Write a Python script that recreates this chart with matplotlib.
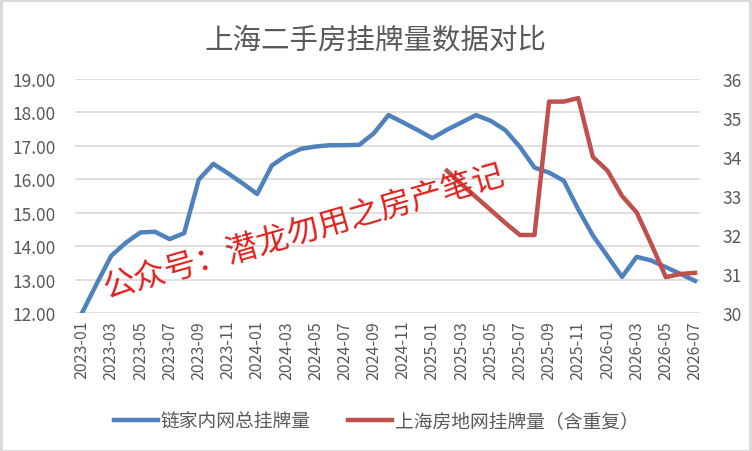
import numpy as np
import matplotlib
matplotlib.use('Agg')
import matplotlib.pyplot as plt
from matplotlib.patches import Rectangle

plt.rcParams['font.family'] = ['Noto Sans CJK SC', 'DejaVu Sans']

months = ['2023-01', '2023-02', '2023-03', '2023-04', '2023-05', '2023-06', '2023-07',
          '2023-08', '2023-09', '2023-10', '2023-11', '2023-12', '2024-01', '2024-02',
          '2024-03', '2024-04', '2024-05', '2024-06', '2024-07', '2024-08', '2024-09',
          '2024-10', '2024-11', '2024-12', '2025-01', '2025-02', '2025-03', '2025-04',
          '2025-05', '2025-06', '2025-07', '2025-08', '2025-09', '2025-10', '2025-11',
          '2025-12', '2026-01', '2026-02', '2026-03', '2026-04', '2026-05', '2026-06',
          '2026-07']

lianjia = [12.00, 12.87, 13.71, 14.10, 14.41, 14.43, 14.21,
           14.39, 15.99, 16.46, 16.18, 15.88, 15.56, 16.41,
           16.71, 16.91, 16.98, 17.02, 17.02, 17.03, 17.38,
           17.92, 17.70, 17.47, 17.23, 17.48, 17.70, 17.92,
           17.75, 17.47, 16.97, 16.35, 16.20, 15.96, 15.10,
           14.32, 13.70, 13.08, 13.68, 13.57, 13.37, 13.17,
           12.96]

# 上海房地网 starts at 2025-02
fangdi_start = '2025-02'
fangdi = [33.65, 33.30, 32.97, 32.64, 32.31, 32.00, 32.00,
          35.42, 35.42, 35.51, 34.00, 33.65, 33.00, 32.58,
          31.77, 30.92, 31.00, 31.03]

legend_labels = ['链家内网总挂牌量', '上海房地网挂牌量（含重复）']
title = '上海二手房挂牌量数据对比'
watermark = '公众号：潜龙勿用之房产笔记'

blue = '#4F81BD'
red = '#C0504D'
grey_text = '#595959'

fig = plt.figure(figsize=(7.52, 4.52), dpi=100)
ax = fig.add_axes([75 / 752, 1 - 314 / 452, 625 / 752, 234 / 452])
ax2 = ax.twinx()

x = np.arange(len(months))
i0 = months.index(fangdi_start)
x2 = np.arange(i0, i0 + len(fangdi))

l1, = ax.plot(x, lianjia, color=blue, lw=3.2, solid_joinstyle='round', zorder=3)
l2, = ax2.plot(x2, fangdi, color=red, lw=3.2, solid_joinstyle='round', zorder=3)

ax.set_xlim(-0.48, len(months) - 1 + 0.34)
ax.set_ylim(12, 19)
ax2.set_ylim(30, 36)
ax.set_yticks(np.arange(12, 19.5, 1))
ax.set_yticklabels(['%.2f' % v for v in np.arange(12, 19.5, 1)])
ax2.set_yticks(np.arange(30, 37, 1))

ax.set_xticks(x[::2])
ax.set_xticklabels(months[::2], rotation=90)

ax.grid(axis='y', color='#D9D9D9', lw=1.2)
ax.set_axisbelow(True)
for a in (ax, ax2):
    for s in a.spines.values():
        s.set_visible(False)
    a.tick_params(length=0, colors=grey_text, labelsize=12.5)
ax.tick_params(axis='y', pad=14)
ax2.tick_params(axis='y', pad=16)
ax.tick_params(axis='x', labelsize=11.5, pad=5)
ax.patch.set_visible(False)

fig.text(0.5, 1 - 40 / 452, title, ha='center', va='center', fontsize=20.5,
         color=grey_text, fontweight='light')

fig.text(304 / 752, 1 - 232 / 452, watermark, ha='center', va='center',
         fontsize=23, color='#E0201B', rotation=16, zorder=10, fontweight='light')

fig.legend([l1, l2], legend_labels, loc='center', bbox_to_anchor=(376 / 752, 1 - 422 / 452),
           ncol=2, frameon=False, fontsize=13.5, labelcolor=grey_text,
           handlelength=2.35, columnspacing=2.0, handletextpad=0.15)

fig.patches.append(Rectangle((0.001, 0.001), 0.997, 0.997, transform=fig.transFigure,
                             fill=False, edgecolor='#D9D9D9', lw=2))

fig.savefig('out.png', dpi=100)
